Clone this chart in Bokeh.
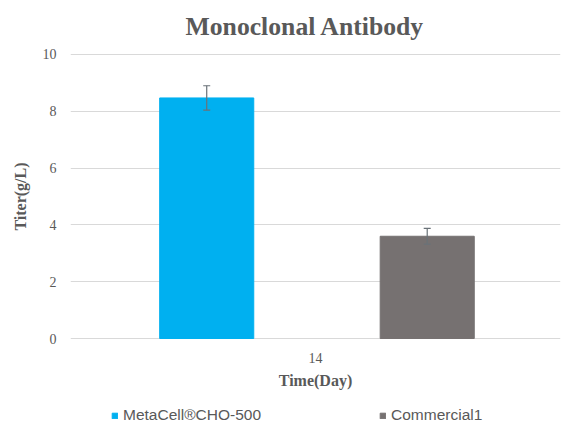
from bokeh.plotting import figure
from bokeh.models import (ColumnDataSource, Range1d, FixedTicker, Whisker, TeeHead,
                          Legend, LegendItem)
from bokeh.layouts import column
from bokeh.embed import file_html
from bokeh.resources import INLINE

# ---- data ----
title_text = "Monoclonal Antibody"
day_label = "14"
series_names = ["MetaCell®CHO-500", "Commercial1"]
titer_values = [8.47, 3.60]
titer_errors = [0.43, 0.28]
series_colors = ["#00B0F0", "#767171"]
y_ticks = [0, 2, 4, 6, 8, 10]

# ---- layout constants ----
group_center = 0.5
offsets = [-0.222, 0.228]
bar_width = 0.192
text_color = "#595959"

xs = [group_center + o for o in offsets]
src = ColumnDataSource(dict(
    x=xs, top=titer_values,
    upper=[v + e for v, e in zip(titer_values, titer_errors)],
    lower=[v - e for v, e in zip(titer_values, titer_errors)]))

p = figure(width=565, height=400, output_backend="svg", toolbar_location=None,
           x_range=Range1d(0, 1), y_range=Range1d(-0.035, 10.035),
           min_border_left=70, min_border_right=5, min_border_top=53,
           min_border_bottom=61)
p.outline_line_color = None
p.background_fill_color = "white"
p.border_fill_color = "white"

# title
p.title.text = title_text
p.title.text_font = "Liberation Serif"
p.title.text_font_style = "bold"
p.title.text_font_size = "25.7px"
p.title.text_color = text_color
p.title.align = "left"
p.title.vertical_align = "top"
p.title.standoff = 21
p.title.offset = 115

renderers = []
for i in range(len(series_names)):
    r = p.vbar(x=[xs[i]], top=[titer_values[i]], width=bar_width,
               fill_color=series_colors[i], line_color=series_colors[i])
    renderers.append(r)

w = Whisker(base="x", upper="upper", lower="lower", source=src, level="annotation",
            line_color="#6a7278", line_width=1.2,
            upper_head=TeeHead(size=7, line_color="#6a7278", line_width=1.2),
            lower_head=TeeHead(size=7, line_color="#6a7278", line_width=1.2))
p.add_layout(w)

# axes
p.yaxis.ticker = FixedTicker(ticks=y_ticks)
p.yaxis.axis_line_color = None
p.yaxis.major_tick_line_color = None
p.yaxis.minor_tick_line_color = None
p.yaxis.major_tick_out = 0
p.yaxis.major_tick_in = 0
p.yaxis.minor_tick_out = 0
p.yaxis.major_label_text_font = "Liberation Serif"
p.yaxis.major_label_text_font_size = "14px"
p.yaxis.major_label_text_color = text_color
p.yaxis.major_label_standoff = 14
p.yaxis.axis_label = "Titer(g/L)"
p.yaxis.axis_label_text_font = "Liberation Serif"
p.yaxis.axis_label_text_font_style = "bold"
p.yaxis.axis_label_text_font_size = "16px"
p.yaxis.axis_label_text_color = text_color
p.yaxis.axis_label_standoff = 11

p.xaxis.ticker = FixedTicker(ticks=[group_center])
p.xaxis.major_label_overrides = {group_center: day_label}
p.xaxis.axis_line_color = None
p.xaxis.major_tick_line_color = None
p.xaxis.minor_tick_line_color = None
p.xaxis.major_tick_out = 0
p.xaxis.major_tick_in = 0
p.xaxis.minor_tick_out = 0
p.xaxis.major_label_text_font = "Liberation Serif"
p.xaxis.major_label_text_font_size = "14px"
p.xaxis.major_label_text_color = text_color
p.xaxis.major_label_standoff = 13
p.xaxis.axis_label = "Time(Day)"
p.xaxis.axis_label_text_font = "Liberation Serif"
p.xaxis.axis_label_text_font_style = "bold"
p.xaxis.axis_label_text_font_size = "16px"
p.xaxis.axis_label_text_color = text_color
p.xaxis.axis_label_standoff = 6

p.xgrid.grid_line_color = None
p.ygrid.ticker = FixedTicker(ticks=y_ticks)
p.ygrid.grid_line_color = "#d9d9d9"
p.ygrid.grid_line_width = 1

# legend strip below the chart (its frame is aligned with the chart's frame)
lg = figure(width=565, height=26, output_backend="svg", toolbar_location=None,
            x_range=Range1d(0, 1), y_range=Range1d(100, 101),
            min_border=0, min_border_left=0, min_border_right=0,
            min_border_top=0, min_border_bottom=0)
lg.axis.visible = False
lg.grid.visible = False
lg.outline_line_color = None
lg.border_fill_color = "white"
leg_renderers = [lg.vbar(x=[xs[i]], top=[titer_values[i]], width=bar_width,
                         fill_color=series_colors[i], line_color=series_colors[i])
                 for i in range(len(series_names))]
legend = Legend(items=[LegendItem(label=series_names[i], renderers=[leg_renderers[i]])
                       for i in range(len(series_names))],
                orientation="horizontal", location=(41, 2),
                glyph_width=7, glyph_height=7, label_standoff=5, spacing=118,
                padding=0, margin=0, border_line_color=None,
                background_fill_alpha=0,
                label_text_font="Liberation Sans", label_text_font_size="15.5px",
                label_text_color=text_color)
lg.add_layout(legend, "center")

open("out.html", "w").write(file_html(column(p, lg, spacing=0), INLINE))
